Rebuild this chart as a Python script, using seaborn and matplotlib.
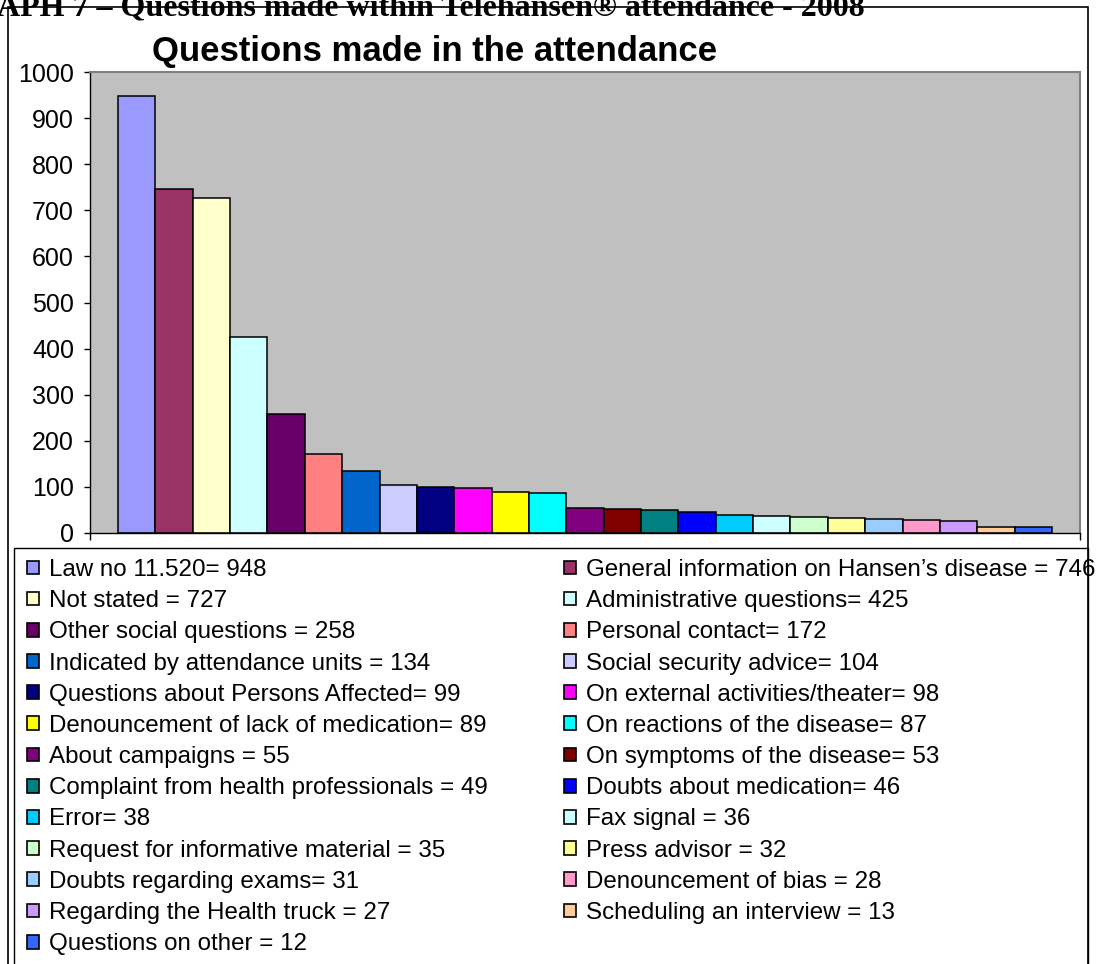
import matplotlib
matplotlib.use("Agg")
import matplotlib.pyplot as plt
from matplotlib.patches import Patch, Rectangle
import seaborn as sns
import pandas as pd

# Question topics (legend prefix text) and their counts
topics = [
    "Law no 11.520=",
    "General information on Hansen\u2019s disease =",
    "Not stated =",
    "Administrative questions=",
    "Other social questions =",
    "Personal contact=",
    "Indicated by attendance units =",
    "Social security advice=",
    "Questions about Persons Affected=",
    "On external activities/theater=",
    "Denouncement of lack of medication=",
    "On reactions of the disease=",
    "About campaigns =",
    "On symptoms of the disease=",
    "Complaint from health professionals =",
    "Doubts about medication=",
    "Error=",
    "Fax signal =",
    "Request for informative material =",
    "Press advisor =",
    "Doubts regarding exams=",
    "Denouncement of bias =",
    "Regarding the Health truck =",
    "Scheduling an interview =",
    "Questions on other =",
]
counts = [948, 746, 727, 425, 258, 172, 134, 104, 99, 98, 89, 87, 55, 53,
          49, 46, 38, 36, 35, 32, 31, 28, 27, 13, 12]
colors = [
    "#9999FF", "#993366", "#FFFFCC", "#CCFFFF", "#660066", "#FF8080",
    "#0066CC", "#CCCCFF", "#000080", "#FF00FF", "#FFFF00", "#00FFFF",
    "#800080", "#800000", "#008080", "#0000FF", "#00CCFF", "#CCFFFF",
    "#CCFFCC", "#FFFF99", "#99CCFF", "#FF99CC", "#CC99FF", "#FFCC99",
    "#3366FF",
]
yticks = list(range(0, 1001, 100))
labels = [f"{t} {v}" for t, v in zip(topics, counts)]

W, H = 1115, 964
sns.set_theme(style="ticks")
plt.rcParams["font.family"] = ["Liberation Sans", "DejaVu Sans"]
plt.rcParams["text.color"] = "black"
plt.rcParams["legend.labelcolor"] = "black"

fig = plt.figure(figsize=(W / 100, H / 100), dpi=100)
fig.patch.set_facecolor("white")


def fx(px):
    return px / W


def fy(py):
    return 1 - py / H


# Plot area
ax = fig.add_axes([fx(90), fy(533), fx(1080) - fx(90), fy(72) - fy(533)])
df = pd.DataFrame({"topic": labels, "count": counts})
sns.barplot(data=df, x="topic", y="count", hue="topic", palette=colors,
            width=1.0, saturation=1, edgecolor="black", linewidth=1.1,
            legend=False, ax=ax)
ax.set_facecolor("#C0C0C0")
n = len(counts)
x_lo, x_hi = -1.25, n + 0.25
ax.set_xticks([x_lo, x_hi], labels=["", ""])
ax.set_xlim(x_lo, x_hi)
ax.set_ylim(0, 1000)
ax.set_yticks(yticks)
ax.set_yticklabels([str(v) for v in yticks])
ax.set_xlabel("")
ax.set_ylabel("")
ax.tick_params(axis="y", direction="out", length=4.5, width=1, color="black",
               labelsize=18, pad=7, labelcolor="black")
ax.tick_params(axis="x", direction="out", length=5, width=1, color="black")
for side in ("left", "bottom"):
    ax.spines[side].set_color("black")
    ax.spines[side].set_linewidth(1)
for side in ("top", "right"):
    ax.spines[side].set_color("#808080")
    ax.spines[side].set_linewidth(1.5)

# Titles
fig.text(fx(435), fy(51), "Questions made in the attendance", ha="center",
         va="center", fontsize=25, fontweight="bold", color="black")
fig.text(fx(865), fy(15),
         "GRAPH 7 \u2013 Questions made within Telehansen\u00ae attendance - 2008",
         ha="right", va="baseline", family=["Liberation Serif", "DejaVu Serif"],
         fontweight="bold", fontsize=23, color="black")

# Chart frame and legend frame
fig.add_artist(Rectangle((fx(8), fy(980)), fx(1088) - fx(8), fy(7) - fy(980),
                         transform=fig.transFigure, fill=False,
                         edgecolor="black", linewidth=1.2))
fig.add_artist(Rectangle((fx(14), fy(980)), fx(1088) - fx(14), fy(548) - fy(980),
                         transform=fig.transFigure, fill=False,
                         edgecolor="black", linewidth=1.0))

# Two-column legend, filled row by row
handles = [Patch(facecolor=c, edgecolor="black", linewidth=1.2) for c in colors]
common = dict(loc="upper left", frameon=False, fontsize=17.4, handlelength=0.5,
              handleheight=0.5, handletextpad=0.4, labelspacing=0.38,
              borderpad=0, borderaxespad=0, labelcolor="black")
fig.legend(handles[0::2], labels[0::2], bbox_to_anchor=(fx(27), fy(559)), **common)
fig.legend(handles[1::2], labels[1::2], bbox_to_anchor=(fx(564), fy(559)), **common)

fig.savefig("out.png", dpi=100)
